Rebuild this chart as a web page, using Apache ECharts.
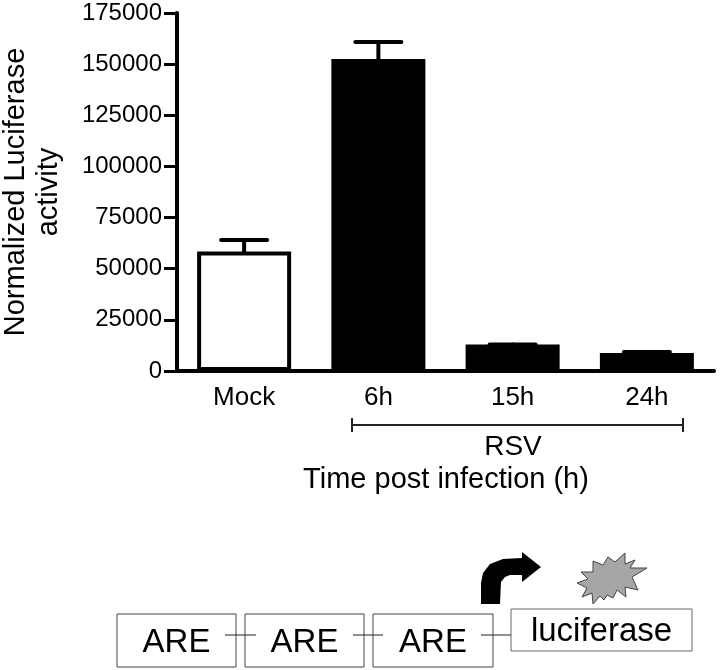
<!DOCTYPE html>
<html>
<head>
<meta charset="utf-8">
<style>
  html, body { margin: 0; padding: 0; background: #fff; }
  #chart { width: 720px; height: 670px; }
</style>
<script src="https://cdn.jsdelivr.net/npm/echarts@6/dist/echarts.min.js"></script>
</head>
<body>
<div id="chart"></div>
<script>
var categories = ['Mock', '6h', '15h', '24h']
var means = [58400, 152500, 12900, 8800]
var errorTops = [64000, 160800, 13000, 9300]
var barColors = ['#ffffff', '#000000', '#000000', '#000000']
var yTicks = [0, 25000, 50000, 75000, 100000, 125000, 150000, 175000]

var fontName = '"Liberation Sans", Arial, sans-serif'

function boxText (x, y, w, h, label, size, textY, stroke) {
  return [
    {type: 'rect', shape: {x: x, y: y, width: w, height: h}, style: {fill: '#fff', stroke: stroke, lineWidth: 1}, z: 5},
    {type: 'text', x: x + w / 2, y: textY, z: 7, style: {text: label, font: size + 'px ' + fontName, fill: '#000', align: 'center', verticalAlign: 'middle'}}
  ]
}

function hLine (x1, x2, y, width) {
  return {type: 'line', z: 6, shape: {x1: x1, y1: y, x2: x2, y2: y}, style: {stroke: '#222', lineWidth: width}}
}

// decoration under the chart, pixel positions
var arrowPoints = [[481, 604], [481, 583], [483, 573], [490, 564], [503, 559], [522, 558], [522, 552], [541, 567], [522, 582], [522, 575], [510, 575], [505, 577], [501, 582], [500, 604]]
var starPoints = [[593, 561], [603, 565], [608, 557], [615, 562], [625, 553], [625, 564], [635, 560], [630, 568], [647, 568], [632, 577], [638, 590], [625, 587], [626, 597], [617, 590], [613, 598], [607, 595], [604, 600], [600, 596], [593, 604], [592, 593], [582, 597], [587, 588], [577, 583], [588, 579], [581, 572], [593, 572]]

var graphics = [
  hLine(352, 683, 425, 2),
  {type: 'line', shape: {x1: 352, y1: 418, x2: 352, y2: 432}, style: {stroke: '#222', lineWidth: 2}},
  {type: 'line', shape: {x1: 683, y1: 418, x2: 683, y2: 432}, style: {stroke: '#222', lineWidth: 2}},
  {type: 'text', x: 513, y: 447, style: {text: 'RSV', font: '28px ' + fontName, fill: '#000', align: 'center', verticalAlign: 'middle'}},
  {type: 'text', x: 446, y: 480, style: {text: 'Time post infection (h)', font: '29px ' + fontName, fill: '#000', align: 'center', verticalAlign: 'middle'}},
  {type: 'polygon', shape: {points: arrowPoints}, style: {fill: '#000'}},
  {type: 'polygon', shape: {points: starPoints}, style: {fill: '#a6a6a6', stroke: '#444', lineWidth: 1}}
]
graphics = graphics.concat(
  boxText(117, 614, 119, 53, 'ARE', 33, 643, '#444'),
  boxText(245, 614, 119, 53, 'ARE', 33, 643, '#444'),
  boxText(373, 614, 120, 53, 'ARE', 33, 643, '#444'),
  boxText(511, 609, 181, 42, 'luciferase', 33, 632, '#666'),
  [hLine(225, 256, 635, 1), hLine(353, 383, 635, 1), hLine(481, 511, 635, 1)]
)

var option = {
  animation: false,
  backgroundColor: '#fff',
  grid: {left: 177, right: 6, top: 13, bottom: 299, outerBoundsMode: 'none'},
  xAxis: {
    type: 'category',
    data: categories,
    axisLine: {lineStyle: {color: '#000', width: 4}},
    axisTick: {alignWithLabel: true, length: 12, lineStyle: {color: '#000', width: 3}},
    axisLabel: {color: '#000', fontSize: 26, fontFamily: fontName, margin: 14}
  },
  yAxis: {
    type: 'value',
    min: yTicks[0],
    max: yTicks[yTicks.length - 1],
    interval: yTicks[1],
    name: 'Normalized Luciferase\nactivity',
    nameLocation: 'middle',
    nameRotate: 90,
    nameGap: 112,
    nameTextStyle: {color: '#000', fontSize: 29, fontFamily: fontName, lineHeight: 33},
    splitLine: {show: false},
    axisLine: {show: true, lineStyle: {color: '#000', width: 4}},
    axisTick: {show: true, length: 13, lineStyle: {color: '#000', width: 3}},
    axisLabel: {
      color: '#000',
      fontSize: 24,
      fontFamily: fontName,
      margin: 15,
      formatter: function (v) { return String(v) }
    }
  },
  series: [
    {
      type: 'bar',
      barWidth: 94,
      data: means.map(function (v, i) {
        return {value: v, itemStyle: {color: barColors[i], borderColor: '#000', borderWidth: 4}}
      })
    },
    {
      type: 'custom',
      z: 1,
      data: means.map(function (v, i) { return [i, v, errorTops[i]] }),
      renderItem: function (params, api) {
        var base = api.coord([api.value(0), api.value(1)])
        var top = api.coord([api.value(0), api.value(2)])
        var style = {stroke: '#000', lineWidth: 4, lineCap: 'round'}
        return {
          type: 'group',
          children: [
            {type: 'line', shape: {x1: base[0], y1: base[1], x2: top[0], y2: top[1]}, style: style},
            {type: 'line', shape: {x1: base[0] - 23, y1: top[1], x2: base[0] + 23, y2: top[1]}, style: style}
          ]
        }
      }
    }
  ],
  graphic: {elements: graphics}
}

var chart = echarts.init(document.getElementById('chart'), null, {renderer: 'canvas'})
chart.setOption(option)
</script>
</body>
</html>
